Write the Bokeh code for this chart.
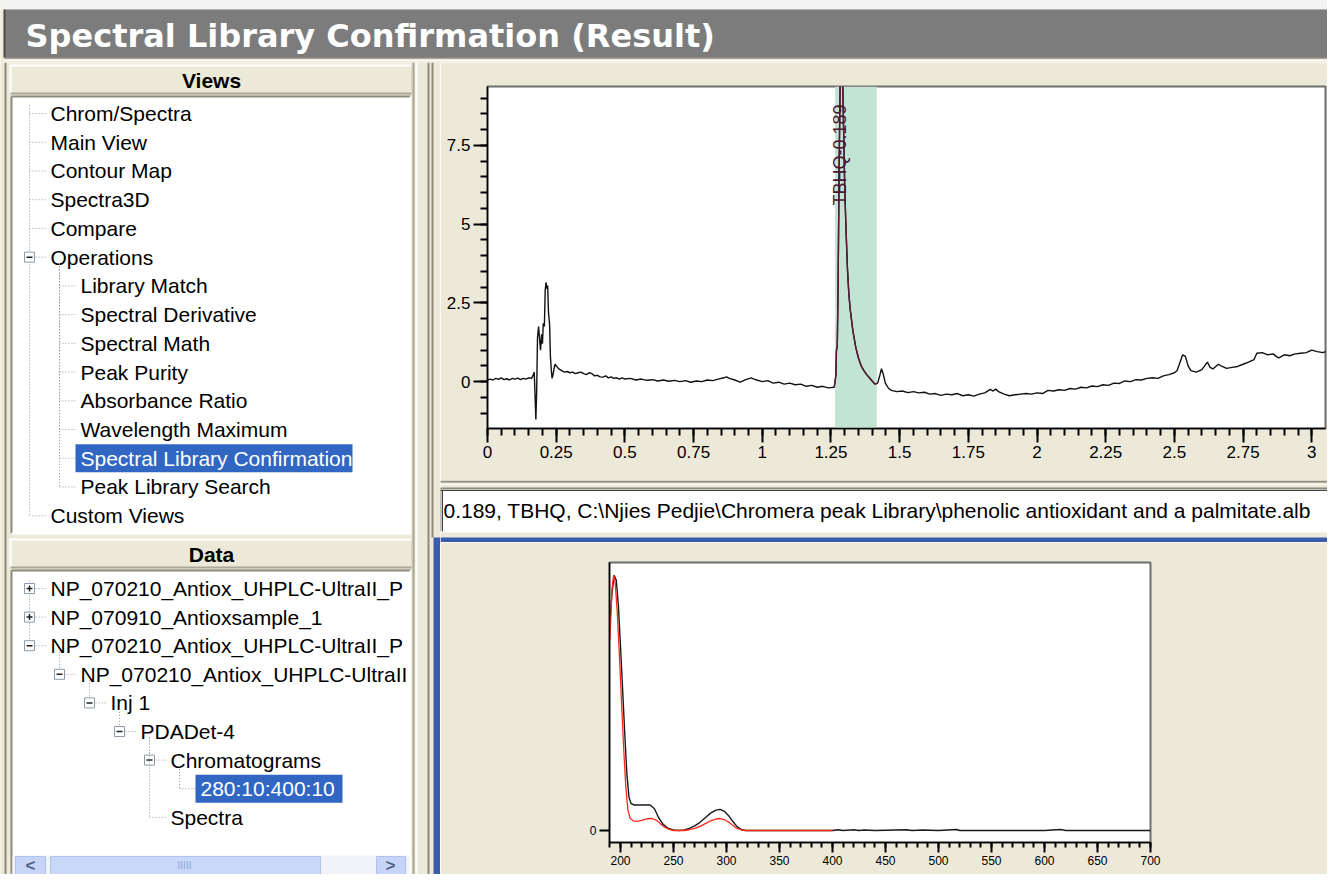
import math
from bokeh.plotting import figure
from bokeh.models import Range1d, FixedTicker, CustomJSTickFormatter, BoxAnnotation
from bokeh.layouts import column, row
from bokeh.embed import file_html
from bokeh.resources import INLINE
from bokeh.core.properties import value

# ---------------- data ----------------
TITLE = "Spectral Library Confirmation (Result)"
VIEW_ITEMS = ["Chrom/Spectra", "Main View", "Contour Map", "Spectra3D", "Compare", "Operations",
              "Library Match", "Spectral Derivative", "Spectral Math", "Peak Purity",
              "Absorbance Ratio", "Wavelength Maximum", "Spectral Library Confirmation",
              "Peak Library Search", "Custom Views"]
VIEW_LEVELS = [1, 1, 1, 1, 1, 1, 2, 2, 2, 2, 2, 2, 2, 2, 1]
VIEW_NODES = ["leaf"] * 5 + ["minus"] + ["leaf"] * 9
VIEW_SELECTED = "Spectral Library Confirmation"

DATA_ITEMS = ["NP_070210_Antiox_UHPLC-UltraII_P", "NP_070910_Antioxsample_1",
              "NP_070210_Antiox_UHPLC-UltraII_P", "NP_070210_Antiox_UHPLC-UltraII",
              "Inj 1", "PDADet-4", "Chromatograms", "280:10:400:10", "Spectra"]
DATA_LEVELS = [1, 1, 1, 2, 3, 4, 5, 6, 5]
DATA_NODES = ["plus", "plus", "minus", "minus", "minus", "minus", "minus", "leaf", "leaf"]
DATA_SELECTED = "280:10:400:10"

MATCH_TEXT = "0.189, TBHQ, C:\\Njies Pedjie\\Chromera peak Library\\phenolic antioxidant and a palmitate.alb"
PEAK_NAME = "TBHQ-0.189"
PEAK_TIME = 1.29
PEAK_LABEL_Y = 5.59
PEAK_START = 1.265
PEAK_END = 1.417

CHROM_TIME = [0.00, 0.01, 0.02, 0.03, 0.04, 0.05, 0.06, 0.07, 0.08, 0.09, 0.10, 0.11, 0.12, 0.13,
              0.14, 0.15, 0.16, 0.165, 0.170, 0.173, 0.176, 0.179, 0.182, 0.186, 0.190, 0.193,
              0.197, 0.200, 0.203, 0.207, 0.210, 0.213, 0.216, 0.219, 0.222, 0.226, 0.229, 0.232,
              0.235, 0.238, 0.242, 0.246, 0.250, 0.255, 0.26, 0.27, 0.28, 0.29, 0.30, 0.31, 0.32,
              0.33, 0.34, 0.35, 0.36, 0.37, 0.38, 0.39, 0.40, 0.41, 0.42, 0.43, 0.44, 0.45, 0.46,
              0.47, 0.48, 0.49, 0.50, 0.52, 0.54, 0.56, 0.58, 0.60, 0.62, 0.64, 0.66, 0.68, 0.70,
              0.72, 0.74, 0.76, 0.78, 0.80, 0.82, 0.84, 0.86, 0.87, 0.88, 0.90, 0.92, 0.94, 0.96,
              0.97, 0.98, 1.00, 1.02, 1.04, 1.06, 1.08, 1.10, 1.12, 1.14, 1.16, 1.18, 1.20, 1.22,
              1.24, 1.262, 1.268, 1.270, 1.273, 1.276, 1.280, 1.285, 1.290, 1.295, 1.300, 1.305,
              1.310, 1.315, 1.320, 1.330, 1.340, 1.350, 1.360, 1.370, 1.380, 1.390, 1.400, 1.410,
              1.420, 1.428, 1.434, 1.440, 1.448, 1.46, 1.47, 1.49, 1.51, 1.53, 1.55, 1.57, 1.59,
              1.61, 1.63, 1.65, 1.67, 1.69, 1.71, 1.73, 1.75, 1.77, 1.79, 1.81, 1.83, 1.84, 1.85,
              1.86, 1.88, 1.90, 1.92, 1.94, 1.96, 1.98, 2.00, 2.02, 2.04, 2.06, 2.08, 2.10, 2.12,
              2.14, 2.16, 2.18, 2.20, 2.22, 2.24, 2.26, 2.28, 2.30, 2.32, 2.34, 2.36, 2.38, 2.40,
              2.42, 2.44, 2.46, 2.48, 2.50, 2.51, 2.52, 2.53, 2.54, 2.55, 2.56, 2.58, 2.60, 2.61,
              2.62, 2.63, 2.64, 2.66, 2.67, 2.69, 2.71, 2.73, 2.75, 2.77, 2.79, 2.80, 2.82, 2.84,
              2.86, 2.87, 2.88, 2.90, 2.92, 2.94, 2.96, 2.98, 3.00, 3.02, 3.04, 3.06, 3.08]
CHROM_ABS = [0.05, 0.08, 0.05, 0.10, 0.07, 0.12, 0.06, 0.09, 0.05, 0.10, 0.08, 0.11, 0.06, 0.10,
             0.08, 0.12, 0.10, 0.18, 0.30, -0.40, -1.20, -0.30, 1.40, 1.75, 1.30, 1.00,
             1.50, 1.20, 1.85, 1.75, 2.90, 3.15, 2.95, 3.05, 2.20, 1.80, 0.80, 0.40,
             0.10, 0.20, 0.40, 0.55, 0.50, 0.45, 0.40, 0.35, 0.30, 0.32, 0.28, 0.30, 0.25,
             0.28, 0.30, 0.25, 0.22, 0.28, 0.25, 0.18, 0.20, 0.15, 0.14, 0.18, 0.12, 0.15, 0.10,
             0.12, 0.08, 0.12, 0.08, 0.10, 0.05, 0.08, 0.04, 0.06, 0.02, 0.05, 0.01, 0.04, 0.00,
             0.03, -0.02, 0.02, 0.00, 0.05, 0.03, 0.08, 0.12, 0.15, 0.10, 0.05, -0.02, 0.06, 0.12,
             0.08, 0.05, 0.00, 0.03, -0.05, -0.02, -0.08, -0.05, -0.10, -0.08, -0.15, -0.12, -0.18, -0.15,
             -0.20, -0.18, 0.20, 1.00, 1.10, 3.00, 7.00, 10.50, 11.00, 8.50, 6.20, 4.80,
             3.60, 2.80, 2.30, 1.60, 1.10, 0.75, 0.50, 0.35, 0.22, 0.12, 0.02, -0.08,
             -0.05, 0.20, 0.41, 0.25, -0.05, -0.22, -0.28, -0.32, -0.30, -0.35, -0.32, -0.36, -0.34,
             -0.40, -0.38, -0.44, -0.40, -0.42, -0.38, -0.45, -0.42, -0.46, -0.40, -0.36, -0.25, -0.30, -0.24,
             -0.32, -0.40, -0.45, -0.42, -0.40, -0.38, -0.40, -0.36, -0.38, -0.28, -0.30, -0.26, -0.28, -0.22,
             -0.24, -0.18, -0.20, -0.14, -0.16, -0.10, -0.12, -0.05, -0.06, 0.02, 0.00, 0.06, 0.05, 0.10,
             0.12, 0.10, 0.18, 0.22, 0.28, 0.35, 0.60, 0.85, 0.80, 0.50, 0.35, 0.30, 0.38, 0.50,
             0.62, 0.45, 0.40, 0.55, 0.50, 0.42, 0.45, 0.48, 0.55, 0.62, 0.70, 0.90, 0.92, 0.85,
             0.88, 0.80, 0.75, 0.85, 0.82, 0.88, 0.90, 0.92, 1.00, 0.95, 0.92, 0.98, 1.10]

X_TICKS = [0, 0.25, 0.5, 0.75, 1, 1.25, 1.5, 1.75, 2, 2.25, 2.5, 2.75, 3]
Y_TICKS = [0, 2.5, 5, 7.5]

WAVELENGTH = [190, 192, 194, 196, 198, 200, 202, 204, 206, 208, 210, 213, 217, 222, 228, 232, 236,
              240, 245, 250, 255, 260, 265, 270, 275, 280, 285, 290, 294, 298, 302, 306, 310, 314,
              318, 325, 340, 360, 380, 400, 405, 410, 420, 425, 430, 440, 470, 475, 485, 500, 517,
              520, 600, 615, 620, 700]
SAMPLE_SPEC = [0.82, 0.93, 1.00, 0.98, 0.88, 0.72, 0.55, 0.38, 0.22, 0.13, 0.105, 0.10, 0.10, 0.10,
               0.10, 0.085, 0.05, 0.025, 0.008, 0.002, 0.0, 0.002, 0.008, 0.018, 0.032, 0.05, 0.068,
               0.08, 0.083, 0.075, 0.058, 0.035, 0.015, 0.004, 0.0, 0.0, 0.0, 0.0, 0.0, 0.0, 0.003,
               0.0, 0.003, 0.0, 0.002, 0.0, 0.003, 0.0, 0.002, 0.0, 0.004, 0.0, 0.0, 0.004, 0.0, 0.0]
LIB_WAVELENGTH = [190, 192, 193.5, 195, 197, 199, 201, 203, 205, 207, 209, 212, 216, 220, 225, 230,
                  234, 238, 242, 246, 250, 260, 265, 270, 275, 280, 285, 290, 294, 298, 302, 306,
                  310, 314, 318, 330, 350, 400]
LIB_SPEC = [0.75, 0.95, 1.00, 0.97, 0.85, 0.68, 0.50, 0.32, 0.17, 0.08, 0.048, 0.038, 0.036, 0.04,
            0.046, 0.047, 0.04, 0.025, 0.012, 0.004, 0.0, 0.0, 0.003, 0.008, 0.016, 0.027, 0.038,
            0.045, 0.047, 0.043, 0.033, 0.02, 0.008, 0.002, 0.0, 0.0, 0.0, 0.0]
WL_TICKS = [200, 250, 300, 350, 400, 450, 500, 550, 600, 650, 700]

# ---------------- styles ----------------
BEIGE = "#ECE9D8"
SHADOW = "#ACA899"
SEL = "#3167C3"
BLUE = "#3A5CAD"
FONT = "Liberation Sans"
TREE_FS = "21px"
W, H = 1327, 874
SPLIT = 440


def no_align(p):
    if hasattr(p, "frame_align"):
        p.frame_align = False
    return p


def chrome(x0, x1, y0, y1):
    p = figure(width=x1 - x0, height=y1 - y0, x_range=Range1d(x0, x1), y_range=Range1d(y1, y0),
               output_backend="svg", toolbar_location=None, tools="",
               x_axis_location=None, y_axis_location=None, min_border=0)
    p.grid.visible = False
    p.outline_line_color = None
    p.background_fill_color = BEIGE
    p.border_fill_color = BEIGE
    return no_align(p)


def txt(p, x, y, s, size=TREE_FS, color="black", align="left", style="normal", font=FONT):
    p.text(x=[x], y=[y], text=[s], text_align=align, text_baseline="middle",
           text_font=value(font), text_font_size=size, text_color=color, text_font_style=style)


def header(p, x0, x1, y0, y1, label):
    p.quad(left=x0, right=x1, top=y0, bottom=y1, fill_color=BEIGE, line_color=None)
    p.segment(x0=[x0, x0], y0=[y0 + 1, y0], x1=[x1, x0], y1=[y0 + 1, y1], line_color="white", line_width=2)
    p.segment(x0=[x0, x1], y0=[y1, y0], x1=[x1, x1], y1=[y1, y1], line_color=SHADOW, line_width=2)
    txt(p, (x0 + x1) / 2, (y0 + y1) / 2 + 1, label, size="21px", align="center", style="bold")


def sunken(p, x0, x1, y0, y1):
    p.quad(left=x0, right=x1, top=y0, bottom=y1, fill_color="white", line_color=None)
    p.segment(x0=[x0, x0], y0=[y0, y0], x1=[x1, x0], y1=[y0, y1], line_color="#8C8A7D", line_width=2)
    p.segment(x0=[x0, x1], y0=[y1, y0], x1=[x1, x1], y1=[y1, y1], line_color="#FFFFFF", line_width=2)


def tree(p, items, levels, nodes, y_first, step, selected, sel_w):
    ys = [y_first + i * step for i in range(len(items))]
    dot = dict(line_color="#9A9A9A", line_dash="1 2", line_width=1)
    roots = [ys[i] for i in range(len(items)) if levels[i] == 1]
    p.segment(x0=[29], y0=[ys[0] - 8], x1=[29], y1=[max(roots)], **dot)
    for i, (s, lv, nd) in enumerate(zip(items, levels, nodes)):
        cx = 30 * lv - 1
        tx = 30 * lv + 20
        y = ys[i]
        if lv > 1:
            j = max(k for k in range(i) if levels[k] == lv - 1)
            p.segment(x0=[cx], y0=[ys[j] + 6], x1=[cx], y1=[y], **dot)
        p.segment(x0=[cx], y0=[y], x1=[tx - 4], y1=[y], **dot)
        if nd in ("plus", "minus"):
            p.quad(left=cx - 5, right=cx + 5, top=y - 5, bottom=y + 5, fill_color="white",
                   line_color="#8E9AA6", line_width=1)
            p.segment(x0=[cx - 3], y0=[y], x1=[cx + 3], y1=[y], line_color="#222", line_width=1.5)
            if nd == "plus":
                p.segment(x0=[cx], y0=[y - 3], x1=[cx], y1=[y + 3], line_color="#222", line_width=1.5)
        if s == selected:
            p.quad(left=tx - 5, right=tx - 5 + sel_w, top=y - 14, bottom=y + 14,
                   fill_color=SEL, line_color=None)
            txt(p, tx, y, s, color="white")
        else:
            txt(p, tx, y, s)


# ---------------- title bar ----------------
title_fig = chrome(0, W, 0, 62)
title_fig.quad(left=0, right=W, top=0, bottom=9, fill_color="#F4F4F4", line_color=None)
title_fig.quad(left=4, right=W, top=9, bottom=57, fill_color="#7C7C7C", line_color=None)
title_fig.segment(x0=[4], y0=[9], x1=[4], y1=[57], line_color="#4A4A4A", line_width=2)
title_fig.segment(x0=[4], y0=[57.5], x1=[W], y1=[57.5], line_color="#5E5E5E", line_width=1)
title_fig.segment(x0=[4], y0=[60], x1=[W], y1=[60], line_color="white", line_width=1)
txt(title_fig, 25, 35, TITLE, size="32px", color="white", style="bold", font="DejaVu Sans")

# ---------------- left panel ----------------
left = chrome(0, SPLIT, 62, H)
left.segment(x0=[5], y0=[62], x1=[5], y1=[H], line_color="#8C8A7C", line_width=2)
header(left, 10, 412, 64, 93, "Views")
sunken(left, 11, 410, 96, 533)
tree(left, VIEW_ITEMS, VIEW_LEVELS, VIEW_NODES, 113, 28.73, VIEW_SELECTED, 277)
header(left, 10, 412, 538, 567, "Data")
sunken(left, 11, 410, 570, H)
tree(left, DATA_ITEMS, DATA_LEVELS, DATA_NODES, 588, 28.6, DATA_SELECTED, 147)
# scrollbar
left.quad(left=12, right=409, top=855, bottom=H, fill_color="#F2F3F8", line_color=None)
left.quad(left=[15, 376], right=[45, 405], top=[856, 856], bottom=[H, H],
          fill_color="#C6D5F7", line_color="#AFC3EE")
left.quad(left=50, right=320, top=856, bottom=H, fill_color="#C9D8F8", line_color="#AFC3EE")
txt(left, 30, 865, "<", size="17px", color="#4D6185", align="center", style="bold")
txt(left, 390, 865, ">", size="17px", color="#4D6185", align="center", style="bold")
txt(left, 184, 865, "IIIII", size="10px", color="#8FA7D8", align="center")
# splitter and right-panel edge
left.quad(left=411, right=SPLIT, top=62, bottom=H, fill_color=BEIGE, line_color=None)
left.segment(x0=[413, 416, 428, 432], y0=[62, 62, 62, 62], x1=[413, 416, 428, 432],
             y1=[H, H, H, 537], line_color=["#A7A592", "#FFFFFF", "#8C8A7C", "#8C8A7C"], line_width=2)
left.quad(left=433, right=SPLIT, top=537, bottom=H, fill_color=BLUE, line_color=None)

# ---------------- chromatogram ----------------
RW = W - SPLIT
top = figure(width=RW, height=418, x_range=Range1d(0, 3.05), y_range=Range1d(-1.49, 9.37),
             output_backend="svg", toolbar_location=None, tools="",
             min_border_left=487 - SPLIT, min_border_right=2, min_border_top=24, min_border_bottom=52)
no_align(top)
top.grid.visible = False
top.background_fill_color = "white"
top.border_fill_color = BEIGE
top.outline_line_color = "#6E6E6E"
top.outline_line_width = 2
top.add_layout(BoxAnnotation(left=PEAK_START, right=PEAK_END, fill_color="#C3E4D4", fill_alpha=1.0,
                             line_color=None, level="underlay"))
top.line(CHROM_TIME, CHROM_ABS, line_color="#111111", line_width=1.4)
band_t = [t for t in CHROM_TIME if PEAK_START - 0.004 <= t <= PEAK_END + 0.004]
band_a = [a for t, a in zip(CHROM_TIME, CHROM_ABS) if PEAK_START - 0.004 <= t <= PEAK_END + 0.004]
top.line(band_t, band_a, line_color="#5C1A36", line_width=1.4)
top.text(x=[PEAK_TIME - 0.006], y=[PEAK_LABEL_Y], text=[PEAK_NAME], angle=math.pi / 2,
         text_align="left", text_baseline="middle", text_font=value(FONT),
         text_font_size="18px", text_color="#4A1530")
fmt = CustomJSTickFormatter(code="return tick.toString();")
top.xaxis.ticker = FixedTicker(ticks=X_TICKS, minor_ticks=[i * 0.05 for i in range(62)])
top.yaxis.ticker = FixedTicker(ticks=Y_TICKS, minor_ticks=[i * 0.5 for i in range(-2, 19)])
for ax in (top.xaxis, top.yaxis):
    ax.formatter = fmt
    ax.axis_line_color = "black"
    ax.axis_line_width = 1.5
    ax.major_tick_line_color = "black"
    ax.major_tick_line_width = 2
    ax.minor_tick_line_color = "black"
    ax.minor_tick_line_width = 2
    ax.major_tick_in = 0
    ax.minor_tick_in = 0
    ax.major_tick_out = 14
    ax.minor_tick_out = 7
    ax.major_label_standoff = 3
    ax.major_label_text_font = FONT
    ax.major_label_text_font_size = "17px"
    ax.major_label_text_color = "black"

# ---------------- match text bar ----------------
bar = chrome(SPLIT, W, 480, 542)
bar.segment(x0=[SPLIT], y0=[481], x1=[W], y1=[481], line_color="#8C8A7C", line_width=2)
bar.segment(x0=[SPLIT], y0=[484], x1=[W], y1=[484], line_color="white", line_width=1)
sunken(bar, SPLIT, W + 1, 488, 531)
bar.segment(x0=[SPLIT, SPLIT + 2], y0=[490, 490], x1=[W + 1, SPLIT + 2], y1=[490, 531],
            line_color="#404040", line_width=1)
bar.quad(left=SPLIT, right=W, top=537, bottom=542, fill_color=BLUE, line_color=None)
txt(bar, 443, 510, MATCH_TEXT, size="21px")

# ---------------- spectra ----------------
bot = figure(width=RW, height=H - 542, x_range=Range1d(189.6, 700), y_range=Range1d(-0.047, 1.05),
             output_backend="svg", toolbar_location=None, tools="",
             min_border_left=609 - SPLIT, min_border_right=W - 1150, min_border_top=562 - 542,
             min_border_bottom=H - 842)
no_align(bot)
bot.grid.visible = False
bot.background_fill_color = "white"
bot.border_fill_color = BEIGE
bot.outline_line_color = "#6E6E6E"
bot.outline_line_width = 2
bot.line(WAVELENGTH, SAMPLE_SPEC, line_color="#1A1A1A", line_width=1.4)
bot.line(LIB_WAVELENGTH, LIB_SPEC, line_color="#FF2A1A", line_width=1.3)
bot.xaxis.ticker = FixedTicker(ticks=WL_TICKS, minor_ticks=list(range(190, 701, 10)))
bot.yaxis.ticker = FixedTicker(ticks=[0], minor_ticks=[])
for ax in (bot.xaxis, bot.yaxis):
    ax.formatter = fmt
    ax.axis_line_color = "black"
    ax.axis_line_width = 1.5
    ax.major_tick_line_color = "black"
    ax.major_tick_line_width = 2
    ax.minor_tick_line_color = "black"
    ax.minor_tick_line_width = 2
    ax.major_tick_in = 0
    ax.minor_tick_in = 0
    ax.major_tick_out = 10
    ax.minor_tick_out = 5
    ax.major_label_standoff = 3
    ax.major_label_text_font = FONT
    ax.major_label_text_font_size = "12px"
    ax.major_label_text_color = "black"

layout = column(title_fig, row(left, column(top, bar, bot, spacing=0), spacing=0), spacing=0)
open("out.html", "w").write(file_html(layout, INLINE))
